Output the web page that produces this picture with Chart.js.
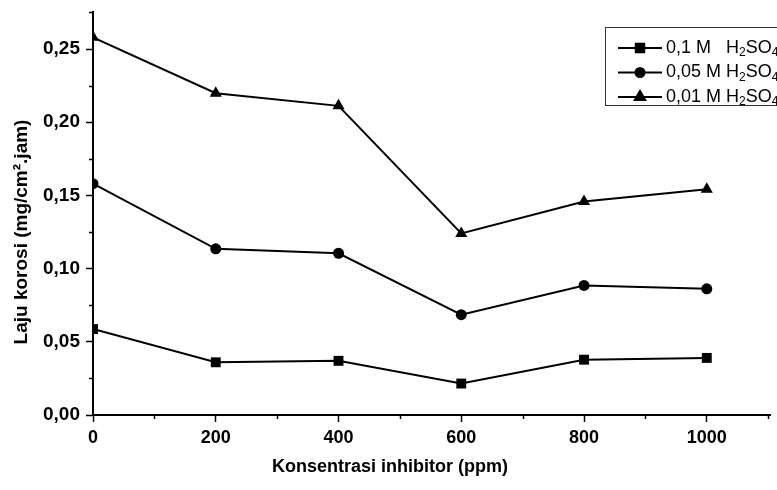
<!DOCTYPE html>
<html>
<head>
<meta charset="utf-8">
<script src="https://cdn.jsdelivr.net/npm/chart.js@4.4.1/dist/chart.umd.min.js"></script>
<style>
  html, body { margin: 0; padding: 0; background: #ffffff; overflow: hidden; }
  #wrap { width: 777px; height: 490px; position: relative; }
</style>
</head>
<body>
<div id="wrap"><canvas id="chart" width="777" height="490"></canvas></div>
<script>
// concentration of inhibitor (ppm)
const concentrations = [0, 200, 400, 600, 800, 1000];

// corrosion rate (mg/cm2.jam) per acid strength
const rate01M = [0.0587, 0.0360, 0.0370, 0.0215, 0.0378, 0.0390];
const rate005M = [0.158, 0.1135, 0.1105, 0.0685, 0.0885, 0.0862];
const rate001M = [0.258, 0.2198, 0.2112, 0.1240, 0.1458, 0.1542];

// axis ticks (major ones get a label, the rest are minor)
const xTicks = [0, 100, 200, 300, 400, 500, 600, 700, 800, 900, 1000, 1100];
const yTicks = [0, 0.025, 0.05, 0.075, 0.1, 0.125, 0.15, 0.175, 0.2, 0.225, 0.25, 0.275];

const seriesLabels = ["0,1 M   H", "0,05 M H", "0,01 M H"];
const seriesStyles = ["rect", "circle", "triangle"];

const xTitle = "Konsentrasi inhibitor (ppm)";
const yTitle = "Laju korosi (mg/cm\u00B2.jam)";

function toPoints(values) {
  return values.map((v, i) => ({ x: concentrations[i], y: v }));
}

function commaFormat(value, digits) {
  return value.toFixed(digits).replace(".", ",");
}

const fontFamily = "'Liberation Sans', Arial, sans-serif";

function isMultiple(v, step) {
  const r = v / step;
  return Math.abs(r - Math.round(r)) < 1e-6;
}
function isMajorX(v) { return isMultiple(v, 200); }
function isMajorY(v) { return isMultiple(v, 0.05); }

// minor ticks, axis titles and a legend with subscripts
const extrasPlugin = {
  id: "extras",
  afterDraw(chart) {
    const ctx = chart.ctx;
    const area = chart.chartArea;
    const xs = chart.scales.x;
    const ys = chart.scales.y;
    ctx.save();

    // minor ticks (shorter than the major ones)
    ctx.strokeStyle = "#000";
    ctx.lineWidth = 1.5;
    ctx.beginPath();
    xs.ticks.forEach((t) => {
      if (!isMajorX(t.value)) {
        const px = Math.round(xs.getPixelForValue(t.value)) + 0.5;
        ctx.moveTo(px, area.bottom);
        ctx.lineTo(px, area.bottom + 4);
      }
    });
    ys.ticks.forEach((t) => {
      if (!isMajorY(t.value)) {
        const py = Math.round(ys.getPixelForValue(t.value)) + 0.5;
        ctx.moveTo(area.left, py);
        ctx.lineTo(area.left - 4, py);
      }
    });
    ctx.stroke();

    // axis titles
    ctx.fillStyle = "#000";
    ctx.font = "bold 18px " + fontFamily;
    ctx.textAlign = "center";
    ctx.textBaseline = "middle";
    ctx.fillText(xTitle, 390, 467);
    ctx.font = "bold 19px " + fontFamily;
    ctx.translate(22, 232);
    ctx.rotate(-Math.PI / 2);
    ctx.fillText(yTitle, 0, 0);
    ctx.restore();

    // legend box
    ctx.save();
    ctx.strokeStyle = "#333";
    ctx.lineWidth = 1;
    ctx.strokeRect(605.5, 27.5, 220, 78);

    chart.data.datasets.forEach((ds, i) => {
      const y = 48 + i * 24.5;
      ctx.strokeStyle = "#000";
      ctx.lineWidth = 2;
      ctx.beginPath();
      ctx.moveTo(618, y);
      ctx.lineTo(662, y);
      ctx.stroke();
      ctx.fillStyle = "#000";
      Chart.helpers.drawPoint(ctx, {
        pointStyle: ds.pointStyle,
        radius: ds.pointStyle === "circle" ? 4.5 : 6,
        rotation: 0,
        borderWidth: 1
      }, 640, y);

      // label text with subscript 2 and 4
      ctx.fillStyle = "#000";
      ctx.textAlign = "left";
      ctx.textBaseline = "middle";
      let x = 666;
      const big = "18px " + fontFamily;
      const small = "12px " + fontFamily;
      const parts = [[seriesLabels[i], big, 0], ["2", small, 5], ["SO", big, 0], ["4", small, 5]];
      for (const [txt, font, dy] of parts) {
        ctx.font = font;
        ctx.fillText(txt, x, y + dy);
        x += ctx.measureText(txt).width;
      }
    });
    ctx.restore();
  }
};

const ctx = document.getElementById("chart").getContext("2d");

const commonDataset = {
  borderColor: "#000000",
  backgroundColor: "#000000",
  borderWidth: 2,
  pointBorderWidth: 0,
  pointHoverRadius: 7,
  tension: 0,
  clip: 0,
};

new Chart(ctx, {
  type: "line",
  plugins: [extrasPlugin],
  data: {
    datasets: [
      Object.assign({}, commonDataset, {
        label: "0,1 M H2SO4",
        data: toPoints(rate01M),
        pointStyle: seriesStyles[0],
        pointRadius: 7,
      }),
      Object.assign({}, commonDataset, {
        label: "0,05 M H2SO4",
        data: toPoints(rate005M),
        pointStyle: seriesStyles[1],
        pointRadius: 5.5,
      }),
      Object.assign({}, commonDataset, {
        label: "0,01 M H2SO4",
        data: toPoints(rate001M),
        pointStyle: seriesStyles[2],
        pointRadius: 7,
      }),
    ],
  },
  options: {
    responsive: false,
    animation: false,
    layout: {
      padding: { top: 12, right: 0, left: 0, bottom: 0 },
    },
    scales: {
      x: {
        type: "linear",
        min: 0,
        max: 1103,
        afterBuildTicks: (scale) => {
          scale.ticks = xTicks.map((v) => ({ value: v }));
        },
        afterFit: (scale) => {
          scale.height = 75;
          scale.paddingLeft = 0;
          scale.paddingRight = 0;
        },
        border: { display: true, color: "#000", width: 2 },
        grid: {
          display: true,
          drawOnChartArea: false,
          drawTicks: true,
          tickLength: 7,
          tickWidth: 1.5,
          tickColor: (c) => (c.tick && isMajorX(c.tick.value) ? "#000" : "rgba(0,0,0,0)"),
        },
        ticks: {
          autoSkip: false,
          maxRotation: 0,
          color: "#000",
          padding: 5,
          font: { family: fontFamily, size: 18, weight: "bold" },
          callback: (value) => (isMajorX(value) ? String(Math.round(value)) : ""),
        },
      },
      y: {
        min: 0,
        max: 0.2753,
        afterBuildTicks: (scale) => {
          scale.ticks = yTicks.map((v) => ({ value: v }));
        },
        afterFit: (scale) => {
          scale.width = 93;
          scale.paddingTop = 0;
          scale.paddingBottom = 0;
        },
        border: { display: true, color: "#000", width: 2 },
        grid: {
          display: true,
          drawOnChartArea: false,
          drawTicks: true,
          tickLength: 7,
          tickWidth: 1.5,
          tickColor: (c) => (c.tick && isMajorY(c.tick.value) ? "#000" : "rgba(0,0,0,0)"),
        },
        ticks: {
          autoSkip: false,
          color: "#000",
          padding: 6,
          font: { family: fontFamily, size: 19, weight: "bold" },
          callback: (value) => (isMajorY(value) ? commaFormat(value, 2) : ""),
        },
      },
    },
    plugins: {
      legend: { display: false },
      tooltip: { enabled: true },
    },
  },
});
</script>
</body>
</html>
